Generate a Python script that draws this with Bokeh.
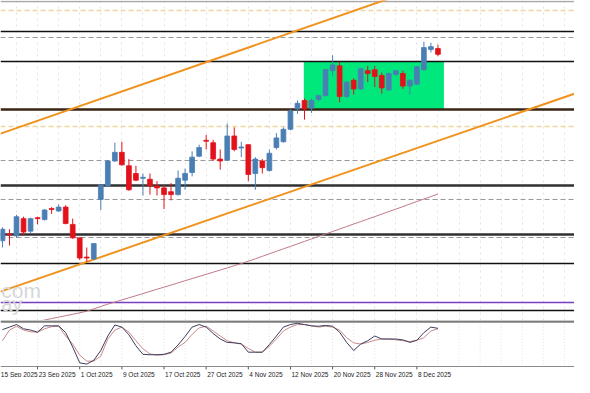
from bokeh.plotting import figure
from bokeh.layouts import column
from bokeh.models import Range1d, FixedTicker, Grid, ColumnDataSource, Label
from bokeh.core.properties import value
from bokeh.embed import file_html
from bokeh.resources import INLINE

# ---------------- data ----------------
opens  = [83, 90, 88, 106, 93, 107, 105, 116.5, 114, 118, 100, 86, 66, 64, 126, 140, 166, 175, 161, 153,
          148, 147, 140, 138, 134, 131, 146, 154, 171, 187.5, 185, 168, 167, 192, 179.5, 183, 153, 166, 156, 180,
          186, 199, 220, 229, 221, 230, 234, 260, 265, 233, 250, 241, 260, 261, 255, 240, 256, 257, 244, 246,
          261, 282, 283]
closes = [95, 89, 108, 92, 106, 106, 115, 115.5, 118, 101, 86, 65, 65, 80, 141, 166, 175, 162, 136, 146,
          149, 140, 138, 131, 131, 148, 153, 170, 180, 186.5, 168, 166, 192, 178, 180.5, 152, 168, 159, 174, 190,
          199, 218, 226, 220, 229, 234, 261, 266, 233, 248, 241, 262, 257, 254, 242, 257, 260, 244, 250, 264,
          284, 285, 277]
highs  = [97, 95, 110, 108, 107, 108, 116, 118, 121, 120, 106, 86, 76, 80, 141, 167, 185, 186, 168, 161,
          153, 153, 145, 141, 143, 156, 158, 176, 183, 193, 188, 178, 205, 201, 186, 183, 170, 168, 178, 195,
          201, 220, 229, 231, 231, 235, 262, 276, 269, 249, 252, 263, 265, 265, 258, 258, 261, 260, 251, 265,
          290, 289, 287]
lows   = [76, 78, 86, 88, 91, 100, 104, 111, 113, 100, 85, 63, 61, 63, 115, 139, 165, 161, 135, 145,
          130, 131, 130, 116, 125, 130, 136, 150, 170, 178, 166, 157, 166, 176, 170, 145, 136, 153, 155, 178,
          185, 198, 215, 209, 216, 228, 233, 254, 227, 232, 235, 240, 248, 243, 236, 239, 254, 241, 235, 245,
          260, 279, 275]
ma_line = [-8, -6.5, -5, -4, -2.5, -1, 0.5, 2, 3.5, 5, 6.5, 8, 9.7, 12, 14.6, 17, 19.2, 21.4, 23.6, 25.8,
           28, 30.3, 32.5, 34.7, 36.9, 39.1, 41.4, 43.6, 45.8, 48, 50.3, 52.5, 54.7, 57, 59.2, 61.7, 64.2, 66.8,
           69.4, 72, 74.6, 77.1, 79.7, 82.3, 84.9, 87.5, 90, 92.6, 95.2, 97.8, 100.4, 102.9, 105.5, 108.1,
           110.7, 113.3, 115.9, 118.5, 121.2, 123.8, 126.4, 129, 131.6]
stoch_k = [83, 89, 95, 85, 82, 77, 92, 92, 92, 76, 42, 5, 2, 11, 34, 68, 94, 89, 71, 45,
           25, 24, 24, 25, 30, 47, 67, 89, 95, 89, 74, 61, 53, 52, 50, 30, 30, 30, 48, 68,
           89, 95, 98, 95, 92, 91, 93, 91, 77, 53, 34, 49, 57, 68, 61, 61, 61, 59, 53, 58,
           76, 89, 86]
stoch_d = [57, 82, 91, 82, 78, 77, 85, 90, 91, 68, 49, 23, 9, 9, 21, 61, 82, 89, 77, 57,
           38, 26, 23, 24, 28, 42, 53, 72, 87, 91, 80, 68, 57, 52, 49, 39, 30, 30, 44, 61,
           80, 89, 95, 95, 92, 89, 91, 89, 82, 64, 52, 49, 53, 58, 61, 61, 59, 57, 55, 58,
           64, 80, 85]
tick_idx = [-1, 5, 11, 17, 23, 29, 35, 41, 47, 53, 59]
tick_labels = ["15 Sep 2025", "23 Sep 2025", "1 Oct 2025", "9 Oct 2025", "17 Oct 2025", "27 Oct 2025",
               "4 Nov 2025", "12 Nov 2025", "20 Nov 2025", "28 Nov 2025", "8 Dec 2025"]
black_levels = [300.5, 270, 59.5, 10]
heavy_levels = [140, 90]
brown_levels = [220]
gray_dash_levels = [294.5, 166, 126, 86]
tan_dash_levels = [323, 202]
purple_levels = [19]
top_levels = [331.5]
box_left, box_right, box_bottom, box_top = [42.9], [62.85], [220], [270]
upper_channel_x, upper_channel_y = [-0.28, 81.44], [194.5, 402]
lower_channel_x, lower_channel_y = [-0.28, 81.44], [30, 236]
watermark = ["com", "ay"]

# ---------------- main price panel ----------------
W = 574
X0, X1 = -0.28, 81.44
xr = Range1d(X0, X1)
p = figure(width=W, height=320, x_range=xr, y_range=Range1d(0, 333),
           x_axis_type=None, y_axis_type=None, output_backend="svg",
           toolbar_location=None, min_border=0)
p.outline_line_color = None
p.background_fill_color = "white"
grid_ticks = [2 + 3 * k for k in range(27)]
p.add_layout(Grid(dimension=0, ticker=FixedTicker(ticks=grid_ticks),
                  grid_line_color="#e2e2e2", grid_line_dash="dotted"))

p.add_layout(Label(x=X0 + 0.1, y=31, text=watermark[0], text_color="#d8d8d8", text_font_size="21px",
                   text_font="Liberation Sans", text_baseline="alphabetic"))
p.add_layout(Label(x=X0 + 0.1, y=17, text=watermark[1], text_color="#d8d8d8", text_font_size="20px",
                   text_font="Liberation Sans", text_baseline="alphabetic"))

p.hspan(y=top_levels, line_color="#a8a8a8", line_width=1.5)
p.hspan(y=tan_dash_levels, line_color="#efd7a2", line_width=1.5, line_dash="5 3")
p.hspan(y=gray_dash_levels, line_color="#9a9a9a", line_width=1.2, line_dash="5 3")

p.quad(left=box_left, right=box_right, bottom=box_bottom, top=box_top,
       fill_color="#00e87c", line_color=None)

p.hspan(y=black_levels, line_color="#101010", line_width=1.6)
p.hspan(y=heavy_levels, line_color="#303030", line_width=2.5)
p.hspan(y=brown_levels, line_color="#3a2414", line_width=2.5)
p.hspan(y=purple_levels, line_color="#7a3fc0", line_width=1.6)

p.line(upper_channel_x, upper_channel_y, line_color="#f0931e", line_width=2)
p.line(lower_channel_x, lower_channel_y, line_color="#f0931e", line_width=2)
p.line(list(range(len(ma_line))), ma_line, line_color="#c07a86", line_width=1)

idx = list(range(len(opens)))
up = [c >= o for o, c in zip(opens, closes)]
colors = ["#4a7fb4" if u else "#e3121a" for u in up]
src = ColumnDataSource(dict(x=idx, o=opens, c=closes, h=highs, l=lows, col=colors,
                            top=[max(o, c) for o, c in zip(opens, closes)],
                            bot=[min(o, c) for o, c in zip(opens, closes)]))
p.segment(x0="x", y0="l", x1="x", y1="h", line_color="col", line_width=1, source=src)
p.vbar(x="x", width=0.68, top="top", bottom="bot", fill_color="col", line_color="col",
       line_width=0.8, source=src)

# ---------------- stochastic panel with its own date strip ----------------
AX = -4.5  # axis line level in the stochastic panel's units
s = figure(width=W, height=57, x_range=xr, y_range=Range1d(-29.5, 104.5),
           x_axis_type=None, y_axis_type=None, output_backend="svg",
           toolbar_location=None, min_border=0)
s.outline_line_color = None
s.background_fill_color = "white"
s.segment(x0=grid_ticks, y0=[AX] * len(grid_ticks), x1=grid_ticks, y1=[104.5] * len(grid_ticks),
          line_color="#e2e2e2", line_dash="1 2", line_width=1)
s.hspan(y=[103.2], line_color="#7c7c7c", line_width=2.5)
s.line(idx, stoch_d, line_color="#c98a8a", line_width=1)
s.line(idx, stoch_k, line_color="#3b3f5c", line_width=1)

s.hspan(y=[AX], line_color="#8a8a8a", line_width=1)
s.segment(x0=tick_idx, y0=[AX] * len(tick_idx), x1=tick_idx, y1=[AX - 6] * len(tick_idx),
          line_color="#555555", line_width=1)
label_x = [max(t + 0.15, X0 + 0.05) for t in tick_idx]
s.text(x=label_x, y=[-23.5] * len(tick_idx), text=tick_labels, text_align="left",
       text_baseline="alphabetic", text_font=value("Liberation Sans"),
       text_font_size="6.5px", text_color="#222222")

layout = column(p, s, spacing=0)
open("out.html", "w").write(file_html(layout, INLINE))
